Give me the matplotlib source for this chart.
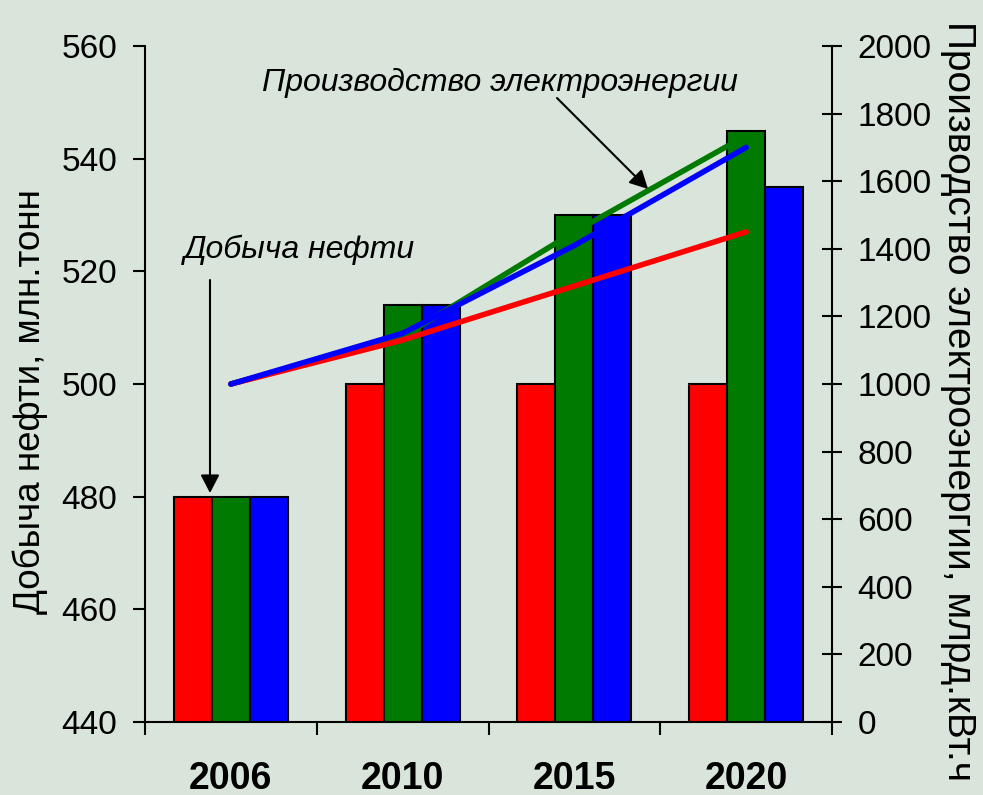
import matplotlib
matplotlib.use("Agg")
import matplotlib.pyplot as plt
import numpy as np

plt.rcParams['font.family'] = ['Liberation Sans', 'DejaVu Sans']

# data
years = ['2006', '2010', '2015', '2020']
oil_red = [480, 500, 500, 500]
oil_green = [480, 514, 530, 545]
oil_blue = [480, 514, 530, 535]
power_red = [1000, 1130, 1290, 1450]
power_green = [1000, 1140, 1450, 1735]
power_blue = [1000, 1150, 1410, 1700]

bg = '#D9E5DB'
fig = plt.figure(figsize=(9.83, 7.95), dpi=100, facecolor=bg)
ax = fig.add_axes([0.1475, 0.0918, 0.6989, 0.8503])
ax.set_facecolor(bg)

x = np.arange(len(years))
w = 0.221
ax.bar(x - w, oil_red, w, color='#FF0000', edgecolor='black', linewidth=1.5)
ax.bar(x, oil_green, w, color='#007A00', edgecolor='black', linewidth=1.5)
ax.bar(x + w, oil_blue, w, color='#0000FF', edgecolor='black', linewidth=1.5)

ax.set_ylim(440, 560)
ax.set_xlim(-0.5, 3.5)
ax.set_yticks(np.arange(440, 561, 20))
ax.tick_params(axis='y', direction='out', length=9, width=1.5, labelsize=24, pad=11)
ax.set_xticks(np.arange(-0.5, 3.6, 1))
ax.set_xticklabels([])
ax.tick_params(axis='x', which='major', direction='out', length=9, width=1.5)
ax.set_xticks(x, minor=True)
ax.set_xticklabels(years, minor=True, fontsize=27, fontweight='bold')
ax.tick_params(axis='x', which='minor', length=0, pad=28)
for s in ['top', 'right']:
    ax.spines[s].set_visible(False)
for s in ['left', 'bottom']:
    ax.spines[s].set_linewidth(1.5)

ax2 = ax.twinx()
ax2.set_ylim(0, 2000)
ax2.set_yticks(np.arange(0, 2001, 200))
ax2.tick_params(axis='y', direction='inout', length=15, width=1.5, labelsize=24, pad=11)
for s in ['top', 'left', 'bottom']:
    ax2.spines[s].set_visible(False)
ax2.spines['right'].set_linewidth(1.5)

ax2.plot(x, power_green, color='#007A00', lw=4, solid_capstyle='round')
ax2.plot(x, power_red, color='#FF0000', lw=4, solid_capstyle='round')
ax2.plot(x, power_blue, color='#0000FF', lw=4, solid_capstyle='round')

fig.text(0.031, 0.495, 'Добыча нефти, млн.тонн', rotation=90, fontsize=26.5,
         ha='center', va='center')
fig.text(0.975, 0.496, 'Производство электроэнергии, млрд.кВт.ч', rotation=-90,
         fontsize=28, ha='center', va='center')

arrow = dict(arrowstyle='-|>,head_length=0.5,head_width=0.26', color='black',
             lw=1.5, mutation_scale=22, shrinkA=0, shrinkB=0)
ax2.text(500 / 983, 1 - 83 / 795, 'Производство электроэнергии', transform=fig.transFigure,
         ha='center', va='center', fontsize=23, style='italic')
ax2.annotate('', xy=(648 / 983, 1 - 189 / 795), xytext=(557 / 983, 1 - 98 / 795),
             xycoords='figure fraction', textcoords='figure fraction', arrowprops=arrow)
ax2.text(300 / 983, 1 - 250 / 795, 'Добыча нефти', transform=fig.transFigure,
         ha='center', va='center', fontsize=23, style='italic')
ax2.annotate('', xy=(210 / 983, 1 - 493 / 795), xytext=(210 / 983, 1 - 280 / 795),
             xycoords='figure fraction', textcoords='figure fraction', arrowprops=arrow)

plt.savefig('out.png', dpi=100, facecolor=bg)
